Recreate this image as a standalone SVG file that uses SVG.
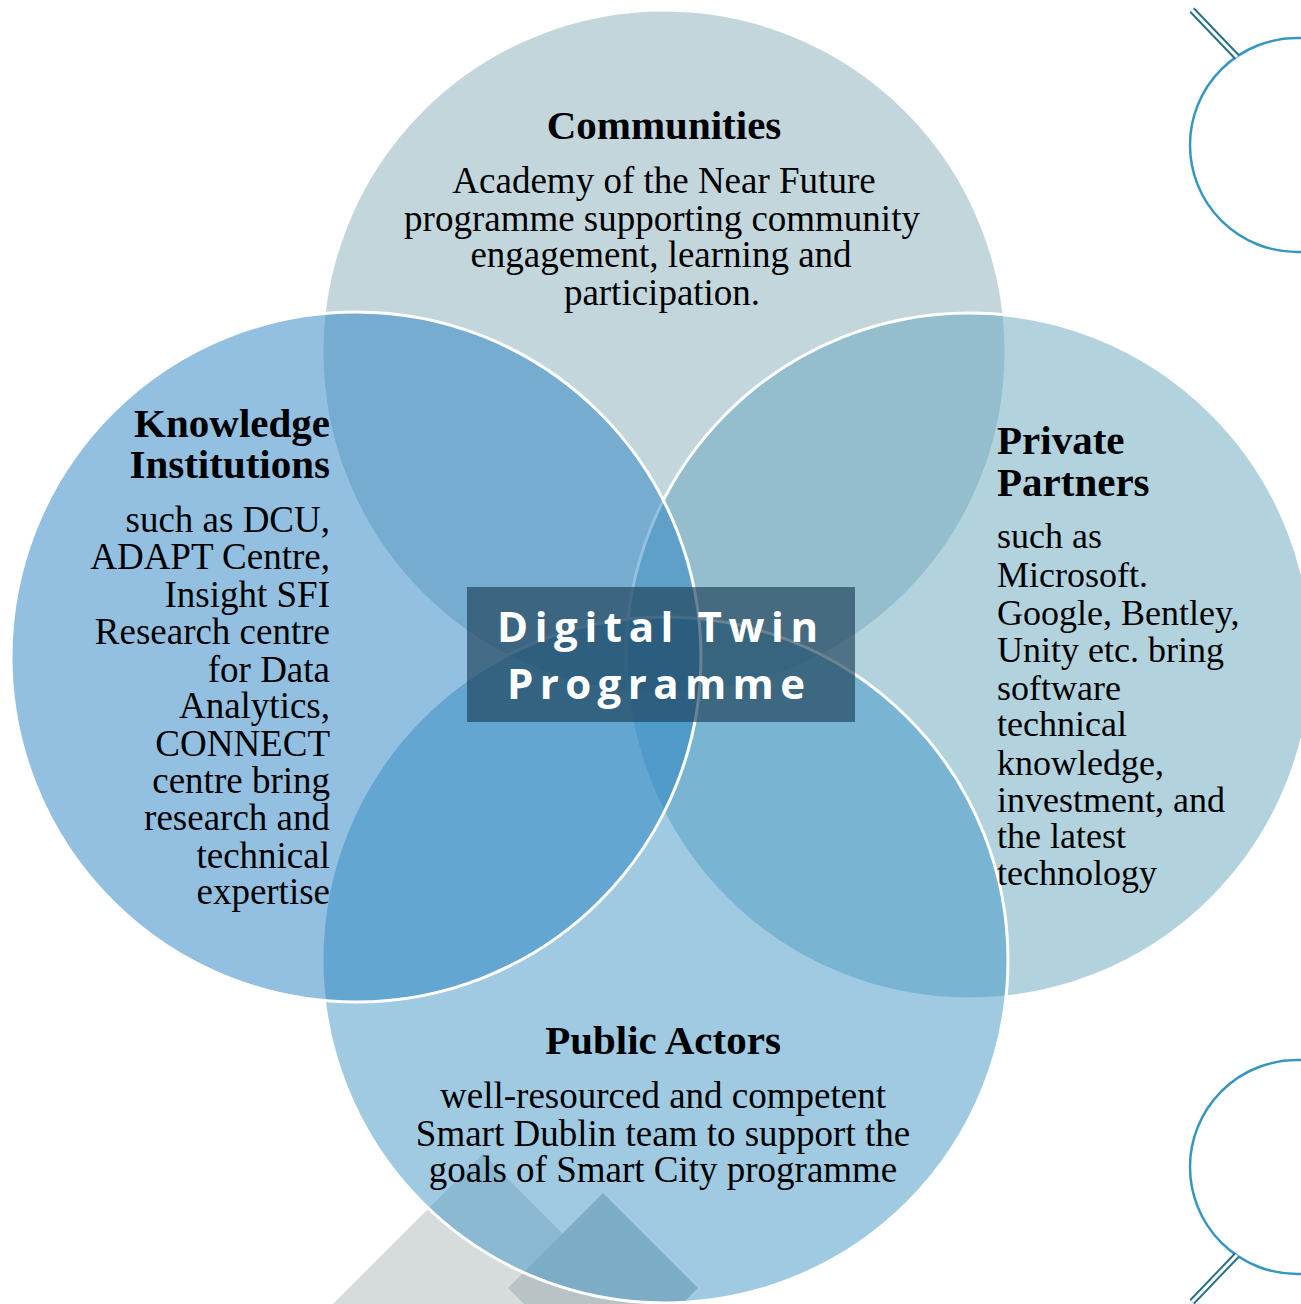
<svg xmlns="http://www.w3.org/2000/svg" width="1301" height="1304" viewBox="0 0 1301 1304">
<style>
.c{fill-opacity:0.5;stroke:#ffffff;stroke-width:3}
.h{font-family:"Liberation Serif","Times New Roman",serif;font-weight:bold;font-size:41px;fill:#000}
.b{font-family:"Liberation Serif","Times New Roman",serif;font-size:37px;fill:#000}
.p{font-family:"Liberation Serif","Times New Roman",serif;font-size:36px;fill:#000}
.t{font-family:"Open Sans","DejaVu Sans",sans-serif;font-weight:bold;font-size:42px;fill:#ffffff}
.ring{fill:none;stroke:#3596c0;stroke-width:2.5}
</style>
<rect width="1301" height="1304" fill="#ffffff"/>
<g id="background-shapes">
<polygon points="333,1304 483,1154 633,1304" fill="#d6dcdc"/>
<polygon points="603,1193 698,1288 603,1383 508,1288" fill="#b9c3c6"/>
</g>
<g id="decorations">
<circle class="ring" cx="1297" cy="145" r="107"/>
<line x1="1192" y1="10" x2="1237" y2="57" stroke="#2c6f8b" stroke-width="7"/>
<line x1="1192" y1="10" x2="1237" y2="57" stroke="#ffffff" stroke-width="3"/>
<circle class="ring" cx="1297" cy="1167" r="107"/>
<line x1="1192" y1="1302" x2="1237" y2="1255" stroke="#2c6f8b" stroke-width="7"/>
<line x1="1192" y1="1302" x2="1237" y2="1255" stroke="#ffffff" stroke-width="3"/>
</g>
<g id="connectors"></g>
<g id="communities">
<circle class="c" cx="664" cy="352" r="342" fill="rgb(135,173,185)"/>
</g>
<g id="private-partners">
<circle class="c" cx="969" cy="656" r="343" fill="rgb(101,165,189)"/>
</g>
<g id="public-actors">
<circle class="c" cx="665" cy="960" r="343" fill="rgb(63,149,197)"/>
</g>
<g id="knowledge-institutions">
<circle class="c" cx="356" cy="657" r="345" fill="rgb(39,129,193)"/>
</g>
<g id="communities-text">
<text class="h" x="664" y="139" text-anchor="middle">Communities</text>
<text class="b" x="664" y="193" text-anchor="middle">Academy of the Near Future</text>
<text class="b" x="662" y="231" text-anchor="middle">programme supporting community</text>
<text class="b" x="661" y="267" text-anchor="middle">engagement, learning and</text>
<text class="b" x="662" y="305" text-anchor="middle">participation.</text>
</g>
<g id="knowledge-text">
<text class="h" x="330" y="437" text-anchor="end">Knowledge</text>
<text class="h" x="330" y="478" text-anchor="end">Institutions</text>
<text class="b" x="330" y="532" text-anchor="end">such as DCU,</text>
<text class="b" x="330" y="569" text-anchor="end">ADAPT Centre,</text>
<text class="b" x="330" y="607" text-anchor="end">Insight SFI</text>
<text class="b" x="330" y="644" text-anchor="end">Research centre</text>
<text class="b" x="330" y="682" text-anchor="end">for Data</text>
<text class="b" x="330" y="718" text-anchor="end">Analytics,</text>
<text class="b" x="330" y="756" text-anchor="end">CONNECT</text>
<text class="b" x="330" y="793" text-anchor="end">centre bring</text>
<text class="b" x="330" y="830" text-anchor="end">research and</text>
<text class="b" x="330" y="868" text-anchor="end">technical</text>
<text class="b" x="330" y="904" text-anchor="end">expertise</text>
</g>
<g id="private-text">
<text class="h" x="997" y="454">Private</text>
<text class="h" x="997" y="496">Partners</text>
<text class="p" x="997" y="548">such as</text>
<text class="p" x="997" y="587">Microsoft.</text>
<text class="p" x="997" y="625">Google, Bentley,</text>
<text class="p" x="997" y="662">Unity etc. bring</text>
<text class="p" x="997" y="700">software</text>
<text class="p" x="997" y="736">technical</text>
<text class="p" x="997" y="775">knowledge,</text>
<text class="p" x="997" y="812">investment, and</text>
<text class="p" x="997" y="848">the latest</text>
<text class="p" x="997" y="885">technology</text>
</g>
<g id="public-text">
<text class="h" x="663" y="1054" text-anchor="middle">Public Actors</text>
<text class="b" x="663" y="1108" text-anchor="middle">well-resourced and competent</text>
<text class="b" x="663" y="1146" text-anchor="middle">Smart Dublin team to support the</text>
<text class="b" x="663" y="1182" text-anchor="middle">goals of Smart City programme</text>
</g>
<g id="digital-twin">
<rect x="467" y="587" width="388" height="135" fill="#1c3f58" fill-opacity="0.65"/>
<text class="t" x="497" y="642" textLength="321" lengthAdjust="spacing">Digital Twin</text>
<text class="t" x="507" y="699" textLength="298" lengthAdjust="spacing">Programme</text>
</g>
</svg>
